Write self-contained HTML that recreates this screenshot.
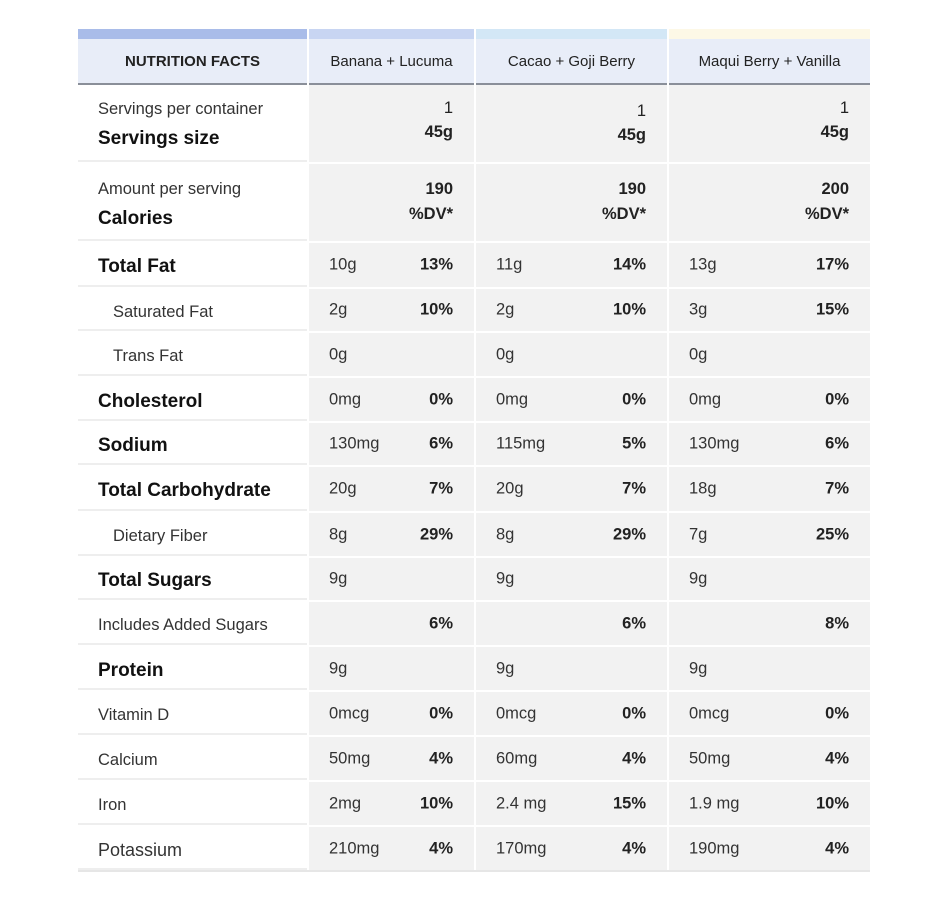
<!DOCTYPE html><html><head><meta charset="utf-8"><style>
body{margin:0;width:950px;height:903px;background:#fff;position:relative;font-family:"Liberation Sans",sans-serif;color:#222;overflow:hidden}
.a{position:absolute}
.bar{top:29px;height:10px}
.hd{top:39px;height:44px;background:#e8edf8;border-bottom:2px solid #8a8f99;display:flex;align-items:center;justify-content:center;font-size:15px;color:#222}
.lab{left:78px;width:229px;background:#fff;border-bottom:2px solid #eee;display:flex;align-items:center;padding-left:20px;padding-top:6px;box-sizing:border-box;font-size:16.5px;color:#333}
.b{font-weight:bold;font-size:19px;color:#111}
.c{background:#f2f2f2}
.v{position:absolute;top:50%;transform:translateY(-50%);font-size:16.5px;color:#333}
.p{position:absolute;top:50%;transform:translateY(-50%);font-size:16.5px;font-weight:bold;color:#222}
</style></head><body>
<div class="a bar" style="left:78px;width:229px;background:#a9bce9"></div>
<div class="a bar" style="left:309px;width:165px;background:#c8d5f2"></div>
<div class="a bar" style="left:476px;width:191px;background:#d3e7f6"></div>
<div class="a bar" style="left:669px;width:201px;background:#fdf8e6"></div>
<div class="a hd" style="left:78px;width:229px;font-weight:bold">NUTRITION FACTS</div>
<div class="a hd" style="left:309px;width:165px">Banana + Lucuma</div>
<div class="a hd" style="left:476px;width:191px">Cacao + Goji Berry</div>
<div class="a hd" style="left:669px;width:201px">Maqui Berry + Vanilla</div>

<div class="a lab" style="top:85px;height:77px;display:block;padding-top:15px"><div style="font-size:16.5px;color:#333">Servings per container</div><div class="b" style="margin-top:9px">Servings size</div></div>
<div class="a lab" style="top:164px;height:77px;display:block;padding-top:16px"><div style="font-size:16.5px;color:#333">Amount per serving</div><div class="b" style="margin-top:9px">Calories</div></div>

<div class="a c" style="left:309px;top:85px;width:165px;height:77px"><div class="a" style="right:21px;top:11px;font-size:16.5px;text-align:right;line-height:24px">1<br><b>45g</b></div></div>
<div class="a c" style="left:476px;top:85px;width:191px;height:77px"><div class="a" style="right:21px;top:14px;font-size:16.5px;text-align:right;line-height:24px">1<br><b>45g</b></div></div>
<div class="a c" style="left:669px;top:85px;width:201px;height:77px"><div class="a" style="right:21px;top:11px;font-size:16.5px;text-align:right;line-height:24px">1<br><b>45g</b></div></div>
<div class="a c" style="left:309px;top:164px;width:165px;height:77px"><div class="a" style="right:21px;top:13px;font-size:16.5px;font-weight:bold;text-align:right;line-height:25px">190<br>%DV*</div></div>
<div class="a c" style="left:476px;top:164px;width:191px;height:77px"><div class="a" style="right:21px;top:13px;font-size:16.5px;font-weight:bold;text-align:right;line-height:25px">190<br>%DV*</div></div>
<div class="a c" style="left:669px;top:164px;width:201px;height:77px"><div class="a" style="right:21px;top:13px;font-size:16.5px;font-weight:bold;text-align:right;line-height:25px">200<br>%DV*</div></div>

<div id="rows"></div>
<script>
var rows=[
[243,44,"Total Fat",1,0,["10g","13%"],["11g","14%"],["13g","17%"]],
[289,42,"Saturated Fat",0,1,["2g","10%"],["2g","10%"],["3g","15%"]],
[333,43,"Trans Fat",0,1,["0g",""],["0g",""],["0g",""]],
[378,43,"Cholesterol",1,0,["0mg","0%"],["0mg","0%"],["0mg","0%"]],
[423,42,"Sodium",1,0,["130mg","6%"],["115mg","5%"],["130mg","6%"]],
[467,44,"Total Carbohydrate",1,0,["20g","7%"],["20g","7%"],["18g","7%"]],
[513,43,"Dietary Fiber",0,1,["8g","29%"],["8g","29%"],["7g","25%"]],
[558,42,"Total Sugars",1,0,["9g",""],["9g",""],["9g",""]],
[602,43,"Includes Added Sugars",0,0,["","6%"],["","6%"],["","8%"]],
[647,43,"Protein",1,0,["9g",""],["9g",""],["9g",""]],
[692,43,"Vitamin D",0,0,["0mcg","0%"],["0mcg","0%"],["0mcg","0%"]],
[737,43,"Calcium",0,0,["50mg","4%"],["60mg","4%"],["50mg","4%"]],
[782,43,"Iron",0,0,["2mg","10%"],["2.4 mg","15%"],["1.9 mg","10%"]],
[827,43,"Potassium",0,0,["210mg","4%"],["170mg","4%"],["190mg","4%"]]];
var cols=[[309,165],[476,191],[669,201]],h="";
rows.forEach(function(r){
 var fs=r[2]=="Potassium"?"font-size:18px;":"";
 h+='<div class="a lab" style="top:'+r[0]+'px;height:'+r[1]+'px;'+(r[4]?'padding-left:35px;':'')+'"><span class="'+(r[3]?'b':'')+'" style="'+fs+'">'+r[2]+'</span></div>';
 cols.forEach(function(c,i){var d=r[5+i];
  h+='<div class="a c" style="left:'+c[0]+'px;top:'+r[0]+'px;width:'+c[1]+'px;height:'+r[1]+'px"><span class="v" style="left:20px">'+d[0]+'</span><span class="p" style="right:21px">'+d[1]+'</span></div>';});
});
h+='<div class="a" style="left:78px;top:870px;width:792px;height:2px;background:#e6e6e6"></div>';
document.getElementById("rows").innerHTML=h;
</script>
</body></html>
